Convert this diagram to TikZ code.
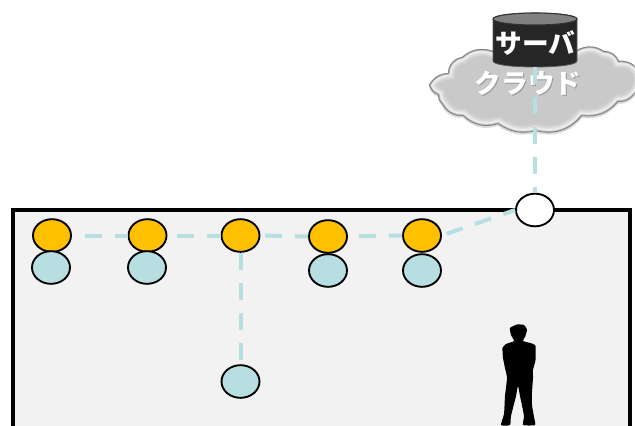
\documentclass[tikz,border=0pt]{standalone}
\usepackage{fontspec}
\newfontfamily\cjk{Noto Sans CJK JP}
\usetikzlibrary{shapes.geometric}
\definecolor{lineblue}{HTML}{B7DEE1}
\definecolor{amber}{HTML}{FFC000}
\definecolor{roomgray}{HTML}{F2F2F2}
\newcommand{\cloudpath}{(429,85) to[bend left=28] (448,73) to[bend left=38] (462,57)
  to[bend left=30] (493,51) to[bend left=12] (577,50) to[bend left=30] (604,51)
  to[bend left=32] (619,61) to[bend left=35] (640,73) to[bend left=30] (634,95)
  to[bend left=25] (618,102) to[bend left=28] (582,116) to[bend left=32] (536,131)
  to[bend left=24] (498,124) to[bend left=30] (463,116) to[bend left=32] (442,104)
  to[bend left=20] (438,95) to[bend left=25] cycle}
\tikzset{
  x=0.75pt,y=-0.75pt,
  bulb/.style={ellipse,draw=black,line width=1.4pt,minimum width=28.5pt,minimum height=24.5pt,inner sep=0pt},
  lamp/.style={bulb,fill=amber},
  sensor/.style={bulb,fill=lineblue},
  hub/.style={bulb,fill=white},
  link/.style={draw=lineblue,line width=3pt,dash pattern=on 12.75pt off 9.75pt},
  cjklabel/.style={font=\cjk\bfseries\fontsize{20pt}{21pt}\selectfont,text=white,inner sep=0pt},
}
\begin{document}
\begin{tikzpicture}
\useasboundingbox (0,0) rectangle (635,425);
\clip (0,0) rectangle (635,425);
% room
\draw[fill=roomgray,draw=black,line width=3pt] (13,500) -- (13,210) -- (630,210) -- (630,500);
% cloud
\fill[black!30,opacity=.45,yshift=-1.5pt] \cloudpath;
\begin{scope}
  \clip \cloudpath;
  \fill[black!21] (420,40) rectangle (640,140);
  \foreach \w/\c in {16/black!20,13/black!17,10/black!12,7/black!6,5/black!10,3/black!30,1.5/black!50}
    \draw[line width=\w pt*0.75,draw=\c] \cloudpath;
\end{scope}
\node[cjklabel,text=black!40] at (529,84.5) {クラウド};
\node[cjklabel] (cloudlabel) at (528,83) {クラウド};
% figure
\fill[black] plot[smooth cycle,tension=0.3] coordinates {
 (510,328) (517,324.5) (524,325) (527,330) (525,337) (523,341) (532,343.5) (535.5,346)
 (535.5,360) (533,370) (533,378) (532,392) (532,405) (534,417) (535,425) (523,425)
 (524,416) (520,396) (518,386) (516,396) (511,416) (510,425) (501,425) (504,414)
 (505,396) (507,378) (505,368) (503,358) (502.5,348) (506,344) (514,341) (511,335)};
% hub and devices
\node[hub] (hub) at (535,210) {};
\node[lamp] (a1) at (52,235.5) {};
\node[lamp] (a2) at (147.5,235.5) {};
\node[lamp] (a3) at (240.5,235.5) {};
\node[lamp] (a4) at (328,236.5) {};
\node[lamp] (a5) at (422,235.5) {};
\node[sensor] (b1) at (51,267.5) {};
\node[sensor] (b2) at (147,267.5) {};
\node[sensor] (b3) at (240.5,381.5) {};
\node[sensor] (b4) at (328,270.5) {};
\node[sensor] (b5) at (422,270.5) {};
% server
\node[minimum width=63pt,minimum height=40.5pt,inner sep=0pt] (srv) at (535,40) {};
\fill[black!85,draw=black!65,line width=0.6pt] (493,19) -- (493,61)
  .. controls (493,69) and (577,69) .. (577,61) -- (577,19)
  .. controls (577,11) and (493,11) .. (493,19) -- cycle;
\fill[black!50,draw=black!80,line width=0.8pt] (535,19) ellipse [x radius=31.5pt,y radius=4.5pt];
\node[cjklabel,font=\cjk\bfseries\fontsize{20pt}{21pt}\selectfont] (srvlabel) at (535.5,43) {サーバ};
% connectors
\draw[link,dash phase=12.75pt] (a1.east) -- (a2.west);
\draw[link,dash phase=15pt] (a2.east) -- (a3.west);
\draw[link,dash phase=19pt] (a3.east) -- (a4.west);
\draw[link,dash phase=14.25pt] (a4.east) -- (a5.west);
\draw[link,dash phase=18.75pt] (a5.east) -- (hub.west);
\draw[link] (a3.south) -- (b3.north);
\draw[link] (srv.south) -- (hub.north);
\end{tikzpicture}
\end{document}
